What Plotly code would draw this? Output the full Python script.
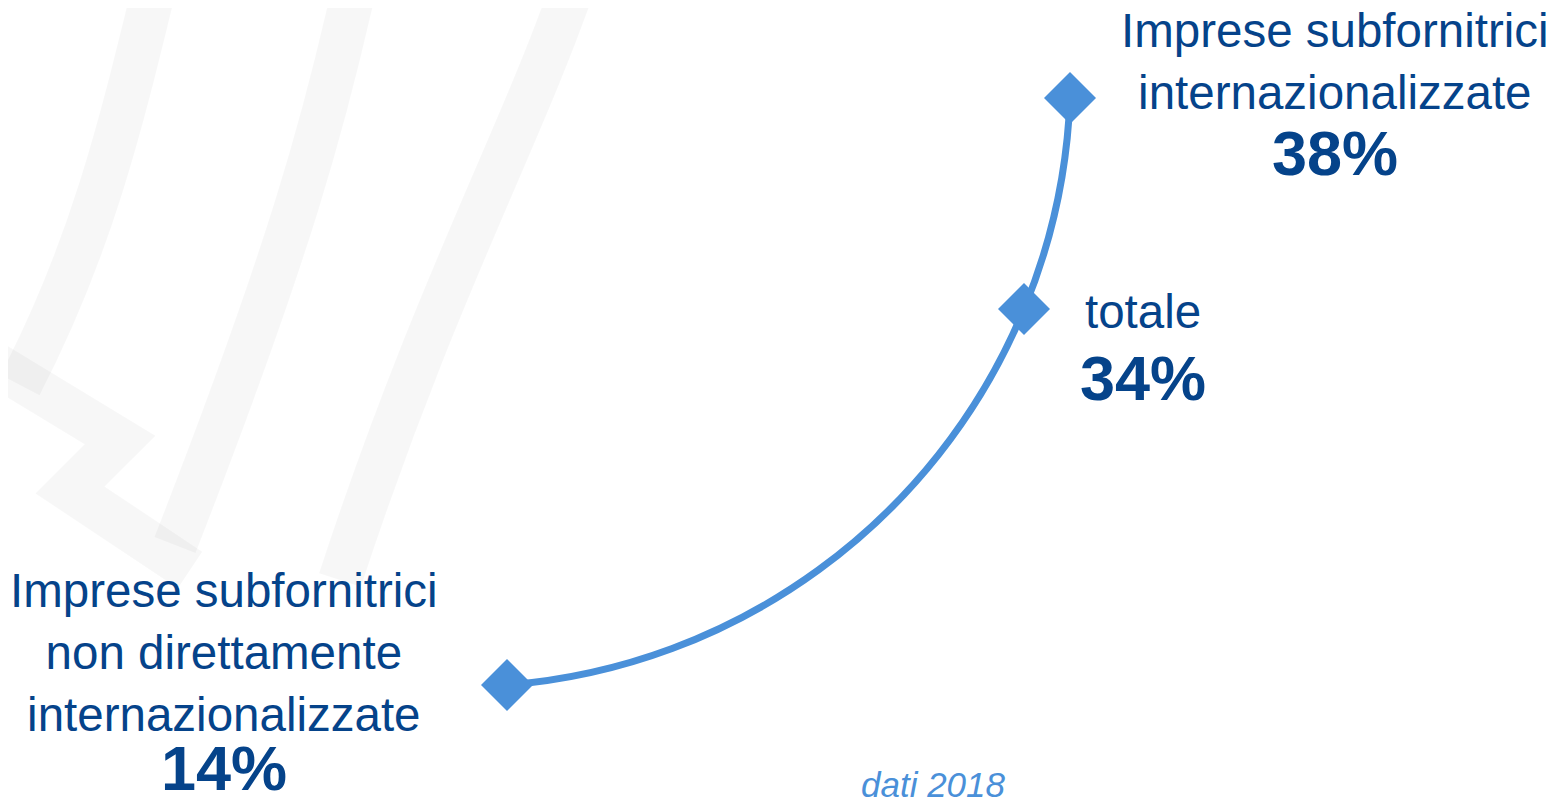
import math
import plotly.graph_objects as go

# three groups of firms, share in percent (dati 2018)
categories = ["Imprese subfornitrici<br>non direttamente<br>internazionalizzate",
              "totale",
              "Imprese subfornitrici<br>internazionalizzate"]
quota = [14, 34, 38]
# where each point sits on the decorative arc (plot units)
curve_x = [507, 1024, 1070]
curve_y = [118, 494, 705]

W, H = 1554, 803
PAD = 8  # browser body margin
BLUE = '#4a90d9'
DARK = '#05438a'
FONT = 'Arial, Liberation Sans, sans-serif'


def flip(pts):
    # pixel-style (y down) -> plot units (y up)
    return [(x, H - y) for x, y in pts]


def arc_path(xs, ys):
    # circle through the three points, drawn as cubic beziers between them
    (x1, y1), (x2, y2), (x3, y3) = zip(xs, ys)
    d = 2 * (x1 * (y2 - y3) + x2 * (y3 - y1) + x3 * (y1 - y2))
    cx = ((x1**2 + y1**2) * (y2 - y3) + (x2**2 + y2**2) * (y3 - y1) + (x3**2 + y3**2) * (y1 - y2)) / d
    cy = ((x1**2 + y1**2) * (x3 - x2) + (x2**2 + y2**2) * (x1 - x3) + (x3**2 + y3**2) * (x2 - x1)) / d
    r = math.hypot(x1 - cx, y1 - cy)
    ang = [math.atan2(y - cy, x - cx) for x, y in zip(xs, ys)]
    p = f"M {xs[0]} {ys[0]}"
    for i in range(len(xs) - 1):
        a0, a1 = ang[i], ang[i + 1]
        h = 4 / 3 * math.tan((a1 - a0) / 4) * r
        c1 = (xs[i] - h * math.sin(a0), ys[i] + h * math.cos(a0))
        c2 = (xs[i + 1] + h * math.sin(a1), ys[i + 1] - h * math.cos(a1))
        p += f" C {c1[0]:.1f} {c1[1]:.1f}, {c2[0]:.1f} {c2[1]:.1f}, {xs[i + 1]} {ys[i + 1]}"
    return p


fig = go.Figure()

# faint watermark strokes in the background
wm = dict(color='rgba(0,0,0,0.03)', width=44)
for pts in [[(156, -20), (120, 130), (90, 250), (20, 385)],
            [(356, -20), (325, 120), (290, 250), (175, 545)],
            [(575, -20), (520, 140), (435, 290), (340, 580)]]:
    q = flip(pts)
    path = f"M {q[0][0]} {q[0][1]} C " + ", ".join(f"{x} {y}" for x, y in q[1:])
    fig.add_shape(type='path', path=path, xref='x', yref='y', line=wm, layer='below')
q = flip([(-20, 355), (120, 440), (70, 490), (190, 570)])
fig.add_shape(type='path', path="M " + " L ".join(f"{x} {y}" for x, y in q), xref='x', yref='y',
              line=wm, layer='below')

fig.add_shape(type='path', path=arc_path(curve_x, curve_y), xref='x', yref='y',
              line=dict(color=BLUE, width=7), layer='below')

fig.add_trace(go.Scatter(x=curve_x, y=curve_y, mode='markers',
                         marker=dict(symbol='diamond', size=40, color=BLUE),
                         hovertext=[f"{c.replace('<br>', ' ')}: {v}%" for c, v in zip(categories, quota)],
                         hoverinfo='text', showlegend=False))

# labels: (center x, name center y, value center y) in plot units
label_pos = [(224, 151, 35), (1143, 492, 425), (1335, 742, 650)]
for (lx, ly, vy), name, v in zip(label_pos, categories, quota):
    fig.add_annotation(x=lx, y=ly, text=name, showarrow=False, xanchor='center', yanchor='middle',
                       font=dict(family=FONT, size=47.5, color=DARK))
    fig.add_annotation(x=lx, y=vy, text=f"<b>{v}%</b>", showarrow=False, xanchor='center', yanchor='middle',
                       font=dict(family=FONT, size=63, color=DARK))

fig.add_annotation(x=933, y=19, text="<i>dati 2018</i>", showarrow=False, xanchor='center', yanchor='middle',
                   font=dict(family=FONT, size=35, color=BLUE))

fig.update_layout(width=W - PAD, height=H - PAD, margin=dict(l=0, r=0, t=0, b=0),
                  paper_bgcolor='white', plot_bgcolor='white',
                  xaxis=dict(range=[PAD, W], visible=False, fixedrange=True),
                  yaxis=dict(range=[0, H - PAD], visible=False, fixedrange=True))
fig.write_html("out.html")
